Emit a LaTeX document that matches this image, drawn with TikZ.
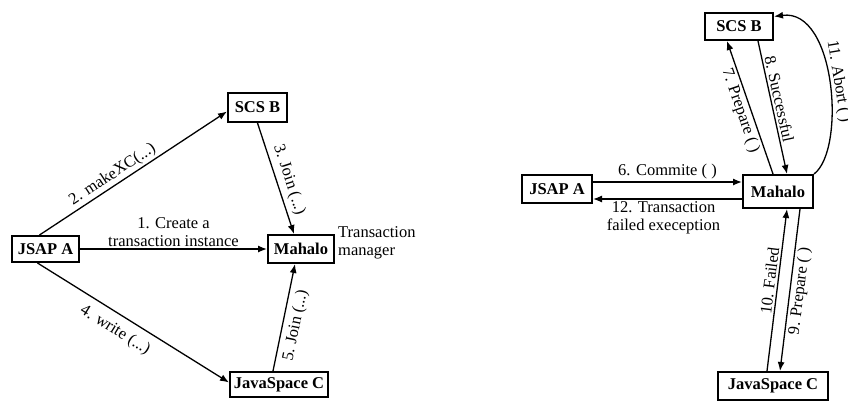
\documentclass[tikz,border=0pt]{standalone}
\usepackage{fontspec}
\setmainfont{Liberation Serif}
\usetikzlibrary{arrows.meta,calc}
\tikzset{
	box/.style={draw, line width=2pt, inner sep=0pt, font=\fontsize{16.5}{18}\selectfont\bfseries},
	flow/.style={line width=1.3pt, -{Latex[length=9pt,width=7pt]}},
	lbl/.style={font=\fontsize{16.5}{18}\selectfont, inner sep=2pt}
}

\begin{document}
\begin{tikzpicture}[x=1pt, y=-1pt]
		%%%%% START %%%%%
		\useasboundingbox (0, 0) rectangle (848, 402);
		
		% left: creating the transaction
		\node[box, minimum width=67pt, minimum height=26pt] (jsapL) at (45.5, 249) {JSAP A};
		\node[box, minimum width=66pt, minimum height=28pt] (mahaloL) at (301, 249) {Mahalo};
		\node[box, minimum width=59pt, minimum height=29pt] (scsL) at (257.5, 107.5) {SCS B};
		\node[box, minimum width=98pt, minimum height=25pt] (javaL) at (279, 384.5) {JavaSpace C};
		\node[lbl, anchor=west, align=left] (tmLabel) at (336, 243) {Transaction\\manager};
		
		\draw[flow] (jsapL.east) -- node[lbl, above, align=center] {1. Create a\\transaction instance} (mahaloL.west);
		\draw[flow] ([xshift=-6pt]jsapL.north) -- node[lbl, pos=0.42, sloped, above] {2. makeXC(...)} ([yshift=-4pt]scsL.west);
		\draw[flow] (scsL.south) -- node[lbl, pos=0.55, sloped, above, yshift=2pt] {3. Join (...)} ([xshift=-7pt]mahaloL.north);
		\draw[flow] ([xshift=-8pt]jsapL.south) -- node[lbl, pos=0.45, sloped, below, yshift=-6pt] {4. write (...)} ([yshift=2pt]javaL.west);
		\draw[flow] ([xshift=-6pt]javaL.north) -- node[lbl, pos=0.45, sloped, below, yshift=-3pt] {5. Join (...)} ([xshift=-6pt]mahaloL.south);
		
		% right: two phase commit
		\node[box, minimum width=68pt, minimum height=27pt] (scsR) at (739, 26.5) {SCS B};
		\node[box, minimum width=70pt, minimum height=28pt] (jsapR) at (557, 189) {JSAP A};
		\node[box, minimum width=70pt, minimum height=33pt] (mahaloR) at (778, 191.5) {Mahalo};
		\node[box, minimum width=110pt, minimum height=28pt] (javaR) at (773, 386) {JavaSpace C};
		
		\draw[flow] ([yshift=7pt]jsapR.east) -- node[lbl, above] {6. Commite ( )} ([yshift=7pt]jsapR.east -| mahaloR.west);
		\draw[flow] ([yshift=-10pt]jsapR.east -| mahaloR.west) -- node[lbl, below, align=center, xshift=-4pt] {12. Transaction\\failed exeception} ([yshift=-10pt]jsapR.east);
		\draw[flow] ([xshift=-5pt]mahaloR.north) -- node[lbl, sloped, below] {7. Prepare ( )} ([xshift=-12pt]scsR.south);
		\draw[flow] ([xshift=19pt]scsR.south) -- node[lbl, pos=0.45, sloped, above] {8. Successful} ([xshift=9pt]mahaloR.north);
		\draw[flow] (mahaloR.north east) .. controls (846, 150) and (836, 8) .. node[lbl, pos=0.5, sloped, above, yshift=-1pt] {11. Abort ( )} ([yshift=10pt]scsR.east);
		\draw[flow] ([xshift=22pt]mahaloR.south) -- node[lbl, sloped, below] {9. Prepare ( )} ([xshift=7pt]javaR.north);
		\draw[flow] ([xshift=-6pt]javaR.north) -- node[lbl, pos=0.55, sloped, above] {10. Failed} ([xshift=9pt]mahaloR.south);
		%%%%% END %%%%%
	\end{tikzpicture}
\end{document}
